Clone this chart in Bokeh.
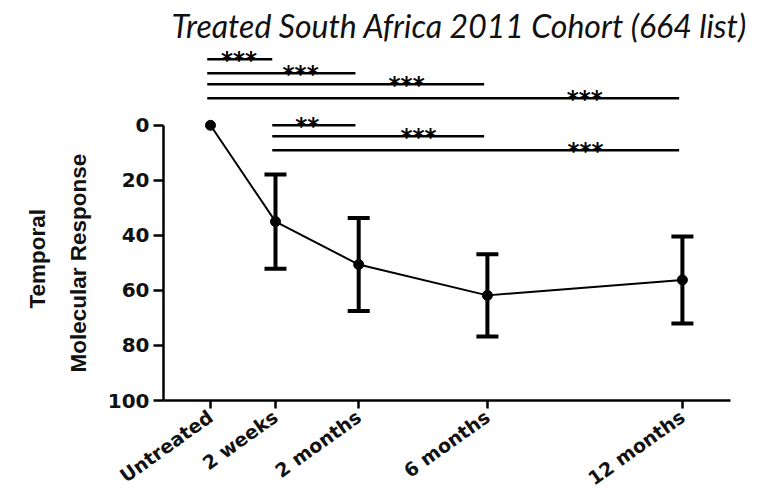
import math
from bokeh.plotting import figure
from bokeh.models import Range1d, FixedTicker, ColumnDataSource, Whisker, TeeHead, Title
from bokeh.core.properties import value
from bokeh.embed import file_html
from bokeh.resources import INLINE

# ---- data ----
categories = ["Untreated", "2 weeks", "2 months", "6 months", "12 months"]
time_axis_pos = [0.0, 1.0, 2.28, 4.26, 7.26]
mean_response = [0.0, 35.0, 50.6, 61.8, 56.2]
sd_response = [0.0, 17.1, 16.9, 14.9, 15.8]
y_ticks = [0, 20, 40, 60, 80, 100]

comparison_from = [0, 0, 0, 0, 1, 1, 1]
comparison_to = [1, 2, 3, 4, 2, 3, 4]
significance = ["***", "***", "***", "***", "**", "***", "***"]

# ---- layout constants ----
bracket_levels = [-24.0, -18.9, -14.9, -9.8, 0.0, 4.0, 9.1]
star_frac = [0.49, 0.63, 0.72, 0.80, 0.42, 0.69, 0.77]
end_inset = 0.05

p = figure(
    frame_width=567, frame_height=355,
    x_range=Range1d(-0.723, 8.0), y_range=Range1d(100, -29),
    output_backend="svg", toolbar_location=None,
    min_border_left=163, min_border_top=45, min_border_right=30, min_border_bottom=80,
    title="Treated South Africa 2011 Cohort (664 list)",
)
p.title.text_font = "Lato"
p.title.text_font_style = "italic"
p.title.text_font_size = "32px"
p.title.text_color = "#111111"
p.title.align = "left"
p.title.offset = 8
p.title.standoff = 2

p.outline_line_color = None
p.xgrid.visible = False
p.ygrid.visible = False

# y axis
ya = p.yaxis[0]
ya.bounds = (0, 100)
ya.ticker = FixedTicker(ticks=y_ticks)
ya.minor_tick_line_color = None
ya.axis_line_width = 2.5
ya.major_tick_line_width = 2.5
ya.major_tick_out = 10
ya.major_tick_in = 0
ya.major_label_standoff = 4
ya.major_label_text_font = "DejaVu Sans"
ya.major_label_text_font_style = "bold"
ya.major_label_text_font_size = "20px"
ya.major_label_text_color = "#111111"

# x axis
xa = p.xaxis[0]
xa.ticker = FixedTicker(ticks=time_axis_pos)
xa.major_label_overrides = {pos: name for pos, name in zip(time_axis_pos, categories)}
xa.minor_tick_line_color = None
xa.axis_line_width = 2.5
xa.major_tick_line_width = 2.5
xa.major_tick_out = 8
xa.major_tick_in = 0
xa.major_label_standoff = 6
xa.major_label_orientation = 0.62
xa.major_label_text_font = "DejaVu Sans"
xa.major_label_text_font_style = "bold"
xa.major_label_text_font_size = "19px"
xa.major_label_text_color = "#111111"

# y axis title: two side titles, placed along the 0-100 span
for txt, off, stand in [("Molecular Response", 28, 28), ("Temporal", 92, 0)]:
    p.add_layout(Title(text=txt, align="left", offset=off, standoff=stand,
                       text_font="Liberation Sans", text_font_style="bold",
                       text_font_size="22.5px", text_color="#111111"), "left")

# mean line + markers
p.line(time_axis_pos, mean_response, line_width=2, line_color="black")
p.scatter(time_axis_pos, mean_response, size=10, color="black")

# error bars
idx = [i for i, s in enumerate(sd_response) if s > 0]
err_src = ColumnDataSource(dict(
    base=[time_axis_pos[i] for i in idx],
    upper=[mean_response[i] - sd_response[i] for i in idx],
    lower=[mean_response[i] + sd_response[i] for i in idx],
))
p.add_layout(Whisker(source=err_src, base="base", upper="upper", lower="lower",
                     line_width=4, line_color="black",
                     upper_head=TeeHead(size=22, line_width=4, line_color="black"),
                     lower_head=TeeHead(size=22, line_width=4, line_color="black")))

# significance brackets
x0 = [time_axis_pos[a] - end_inset for a in comparison_from]
x1 = [time_axis_pos[b] - end_inset for b in comparison_to]
p.segment(x0, bracket_levels, x1, bracket_levels, line_width=2.5, line_color="black")
sx = [a + f * (b - a) for a, b, f in zip(x0, x1, star_frac)]
p.text(sx, bracket_levels, text=significance,
       text_font=value("DejaVu Sans"), text_font_style="bold", text_font_size="23px",
       text_align="center", text_baseline="alphabetic", y_offset=1, text_color="black")

open("out.html", "w").write(file_html(p, INLINE))
